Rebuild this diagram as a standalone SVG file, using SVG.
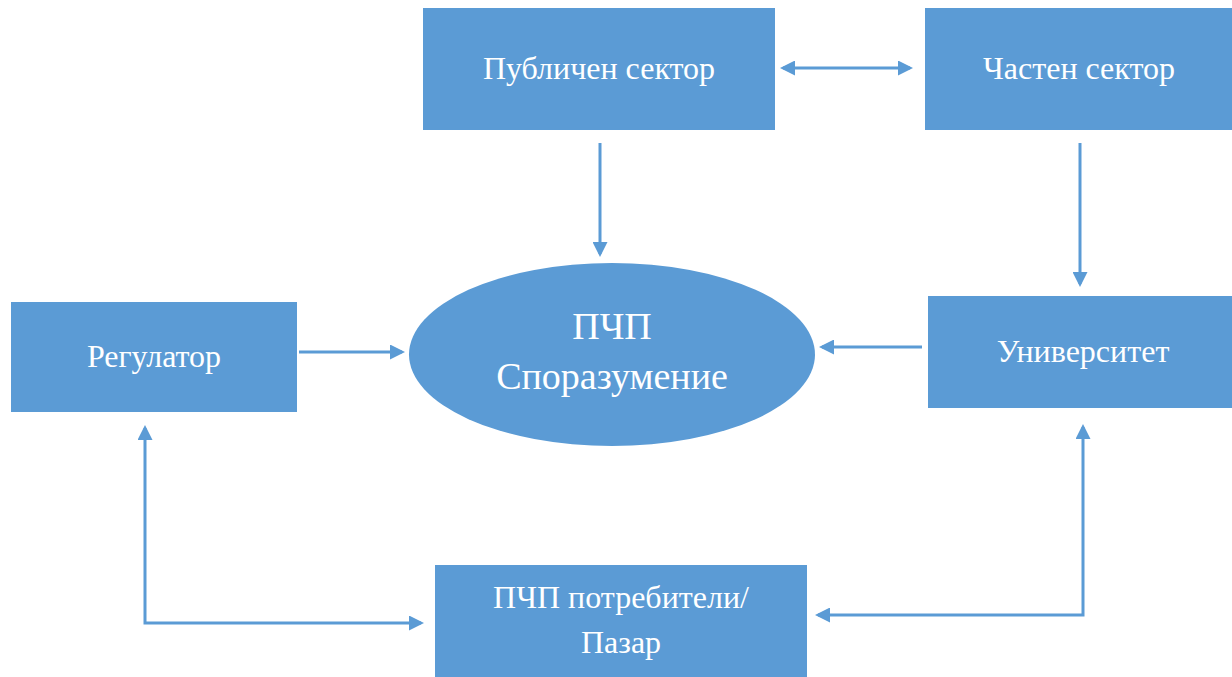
<svg xmlns="http://www.w3.org/2000/svg" width="1232" height="677" viewBox="0 0 1232 677">
<style>
.box{fill:#5B9BD5;}
.lbl{fill:#FFFFFF;text-anchor:middle;font-size:32px;}
.big{font-size:38px;}
.con{fill:none;stroke:#5B9BD5;stroke-width:3;}
</style>
<defs>
<marker id="ah" markerUnits="userSpaceOnUse" markerWidth="15" markerHeight="15" refX="12" refY="7.5" orient="auto-start-reverse">
<path d="M0,0 L15,7.5 L0,15 z" fill="#5B9BD5"/>
</marker>
</defs>
<rect width="1232" height="677" fill="#FFFFFF"/>
<g font-family="'Liberation Serif', 'DejaVu Serif', serif">
<g id="public">
<rect class="box" x="423" y="8" width="352" height="122"/>
<text class="lbl" x="599" y="79">Публичен сектор</text>
</g>
<g id="private">
<rect class="box" x="925" y="8" width="307" height="122"/>
<text class="lbl" x="1079" y="79">Частен сектор</text>
</g>
<g id="ppp">
<ellipse class="box" cx="612" cy="354.5" rx="203" ry="91.5"/>
<text class="lbl big" x="612" y="339">ПЧП</text>
<text class="lbl big" x="612" y="389">Споразумение</text>
</g>
<g id="regulator">
<rect class="box" x="11" y="302" width="286" height="110"/>
<text class="lbl" x="154" y="367">Регулатор</text>
</g>
<g id="university">
<rect class="box" x="928" y="296" width="304" height="112"/>
<text class="lbl" x="1083" y="362">Университет</text>
</g>
<g id="consumers">
<rect class="box" x="435" y="565" width="372" height="112"/>
<text class="lbl" x="621" y="608">ПЧП потребители/</text>
<text class="lbl" x="621" y="653">Пазар</text>
</g>
</g>
<g id="connectors">
<line class="con" x1="783" y1="68" x2="910" y2="68" marker-start="url(#ah)" marker-end="url(#ah)"/>
<line class="con" x1="600" y1="143" x2="600" y2="254" marker-end="url(#ah)"/>
<line class="con" x1="1080" y1="143" x2="1080" y2="284" marker-end="url(#ah)"/>
<line class="con" x1="299" y1="352" x2="402" y2="352" marker-end="url(#ah)"/>
<line class="con" x1="922" y1="347" x2="822" y2="347" marker-end="url(#ah)"/>
<polyline class="con" points="145,428 145,623 421,623" marker-start="url(#ah)" marker-end="url(#ah)"/>
<polyline class="con" points="1083,427 1083,615 818,615" marker-start="url(#ah)" marker-end="url(#ah)"/>
</g>
</svg>
